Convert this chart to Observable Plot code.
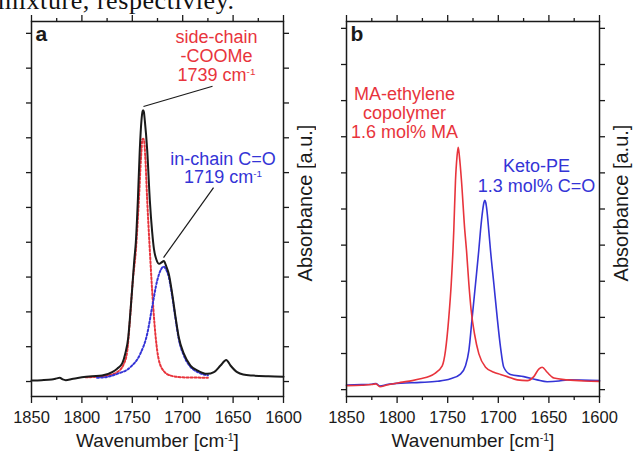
<!DOCTYPE html>
<html><head><meta charset="utf-8">
<script src="https://cdn.jsdelivr.net/npm/d3@7"></script>
<script src="https://cdn.jsdelivr.net/npm/@observablehq/plot@0.6"></script>
<style>
body{margin:0;background:#fff;}
#wrap{position:relative;width:633px;height:451px;overflow:hidden;display:flex;}
#title{position:absolute;left:0;top:0;}
</style></head><body>
<div id="wrap"></div>
<script>
// ---- data (wavenumber cm-1, absorbance a.u.) ----
const majorTicks = [1850, 1800, 1750, 1700, 1650, 1600];
const minorTicks = [1825, 1775, 1725, 1675, 1625];
const yTicks = [0,1,2,3,4,5,6,7,8,9,10];

// Panel a: measured mixture spectrum (black)
const aMeasured = [[1850,0.03],[1840,0.04],[1830,0.06],[1825,0.09],[1822,0.11],[1819,0.06],[1816,0.04],[1810,0.07],[1800,0.12],[1790,0.15],[1780,0.17],[1770,0.27],[1765,0.37],[1760,0.52],[1757,0.8],[1754,1.27],[1752,1.95],[1750,2.71],[1748,3.5],[1746.5,4.0],[1744.5,5.2],[1742.6,6.64],[1740.9,7.5],[1739.8,7.76],[1739.2,7.79],[1738.5,7.74],[1737.6,7.5],[1735.2,6.64],[1732.6,5.2],[1730.3,4.3],[1728.5,3.8],[1726.3,3.52],[1723.2,3.38],[1721,3.42],[1718.7,3.46],[1716.2,3.3],[1713.8,3.09],[1710.4,2.52],[1707.1,1.85],[1703.9,1.27],[1698.9,0.8],[1692.3,0.46],[1685.6,0.32],[1675.7,0.22],[1669,0.27],[1662.5,0.46],[1656.8,0.62],[1652.6,0.46],[1646,0.27],[1640,0.2],[1630,0.17],[1615,0.15],[1600,0.14]];
// Panel a: fitted side-chain -COOMe component (red dotted)
const aFitSide = [[1796,0.12],[1785,0.14],[1775,0.17],[1765,0.27],[1758.5,0.5],[1755,0.88],[1752.8,1.6],[1749.5,2.9],[1746.5,3.76],[1743.5,5.2],[1741.2,6.5],[1740,6.95],[1739.2,6.97],[1738.5,6.95],[1737.2,6.5],[1735.2,5.2],[1732.6,3.76],[1730.3,2.61],[1728,1.66],[1725.3,0.89],[1720.3,0.36],[1712,0.17],[1700,0.12],[1675,0.11]];
// Panel a: fitted in-chain C=O component (blue dotted)
const aFitChain = [[1785,0.11],[1778,0.12],[1765,0.22],[1752,0.41],[1742,0.8],[1735.2,1.37],[1730.3,2.14],[1725.3,2.9],[1721.5,3.22],[1719,3.3],[1716.5,3.22],[1713.8,3.0],[1710.4,2.45],[1707.1,1.8],[1703.9,1.22],[1698.9,0.75],[1692.3,0.42],[1685.6,0.28],[1680,0.21],[1675,0.18]];

// Panel b: MA-ethylene copolymer (red) and Keto-PE (blue)
const bMA = [[1850,0.11],[1835,0.12],[1825,0.14],[1821,0.16],[1817,0.08],[1810,0.13],[1796.6,0.2],[1785,0.25],[1776.9,0.3],[1763.7,0.43],[1755.4,0.66],[1752.2,1.08],[1748.9,2.0],[1746.5,2.93],[1744.8,3.85],[1744,4.4],[1742.3,5.79],[1740.8,6.45],[1739.6,6.71],[1738.4,6.45],[1736.4,5.79],[1733.1,4.4],[1731.4,3.85],[1729.1,2.93],[1726.8,2.19],[1723.5,1.54],[1719.2,0.99],[1712.6,0.62],[1704.4,0.48],[1697.8,0.42],[1691.2,0.36],[1681.3,0.27],[1671.4,0.25],[1664.9,0.36],[1660,0.57],[1656.6,0.62],[1651.7,0.48],[1645.1,0.32],[1631.9,0.27],[1615,0.24],[1600,0.23]];
const bKeto = [[1850,0.13],[1835,0.14],[1825,0.15],[1821,0.17],[1817,0.1],[1810,0.14],[1796.6,0.18],[1776.9,0.2],[1760.4,0.23],[1747.2,0.3],[1737.4,0.43],[1732.4,0.66],[1729.1,1.08],[1725.8,2.0],[1722.5,2.93],[1719.3,3.85],[1717.6,4.4],[1715.5,4.95],[1714.2,5.18],[1713.3,5.24],[1712.4,5.18],[1711.2,4.95],[1709.4,4.4],[1707.7,3.85],[1704.4,2.93],[1701.1,2.0],[1697.8,1.17],[1694.6,0.62],[1688,0.42],[1674.8,0.36],[1661.6,0.27],[1651.7,0.22],[1640,0.24],[1631.9,0.27],[1600,0.25]];

// annotations: [text, wavenumber, absorbance]
const aRedNotes = [["side-chain",1666.5,9.9],["-COOMe",1666.5,9.35],["1739 cm-1",1666.5,8.81]];
const aBlueNotes = [["in-chain C=O",1660,6.38],["1719 cm-1",1660,5.86]];
const aLeaders = [[1738.9,7.9,1670.4,8.48],[1669.4,5.57,1719,3.56]];
const bRedNotes = [["MA-ethylene",1792.7,8.19],["copolymer",1792.7,7.66],["1.6 mol% MA",1792.7,7.13]];
const bBlueNotes = [["Keto-PE",1662.3,6.18],["1.3 mol% C=O",1662.3,5.62]];

const RED = "#e8343c", BLUE = "#3434d6", INK = "#1a1a1a";
const FONT = "'Liberation Sans', Arial, Helvetica, sans-serif";

function panel({width, ml, mr, yDomain, lines, notes, leaders, tag}) {
  return Plot.plot({
    width, height: 451, marginTop: 21, marginBottom: 55, marginLeft: ml, marginRight: mr,
    x: {domain: [1850, 1600], axis: null},
    y: {domain: yDomain, axis: null},
    style: {fontFamily: FONT, background: "transparent", color: INK},
    marks: [
      ...lines,
      Plot.frame({stroke: INK, strokeWidth: 1.5}),
      Plot.axisX(majorTicks, {anchor: "bottom", tickSize: 7, tickPadding: 8, fontSize: 16.5, tickFormat: d => String(d), label: null, stroke: INK, strokeWidth: 1.3, fill: INK}),
      Plot.axisX(minorTicks, {anchor: "bottom", tickSize: 4, tickFormat: () => "", label: null, stroke: INK, strokeWidth: 1.3}),
      Plot.axisX(majorTicks, {anchor: "top", tickSize: 7, tickFormat: () => "", label: null, stroke: INK, strokeWidth: 1.3}),
      Plot.axisX(minorTicks, {anchor: "top", tickSize: 4, tickFormat: () => "", label: null, stroke: INK, strokeWidth: 1.3}),
      Plot.axisY(yTicks, {anchor: "left", tickSize: 5, tickFormat: () => "", label: null, stroke: INK, strokeWidth: 1.3}),
      Plot.axisY(yTicks, {anchor: "right", tickSize: 5, tickFormat: () => "", label: null, stroke: INK, strokeWidth: 1.3}),
      ...(leaders ? [Plot.link(leaders, {x1: d => d[0], y1: d => d[1], x2: d => d[2], y2: d => d[3], stroke: INK, strokeWidth: 1.2})] : []),
      ...notes.map(([arr, color]) => Plot.text(arr, {x: d => d[1], y: d => d[2], text: d => d[0], fill: color, fontSize: 18, textAnchor: "middle", lineAnchor: "middle"})),
      Plot.text([tag], {frameAnchor: "top-left", dx: 4, dy: 5, fontSize: 21, fontWeight: "bold", fill: INK}),
      Plot.text(["Wavenumber [cm-1]"], {frameAnchor: "bottom", lineAnchor: "top", dy: 37, fontSize: 19, fill: INK}),
      Plot.text(["Absorbance [a.u.]"], {frameAnchor: "right", rotate: -90, dx: 22, dy: -6, fontSize: 20, textAnchor: "middle", lineAnchor: "middle", fill: INK})
    ]
  });
}

const A = panel({
  width: 316, ml: 31, mr: 33, yDomain: [-0.43, 10.34], tag: "a",
  lines: [
    Plot.line(aFitSide, {x: d => d[0], y: d => d[1], stroke: RED, strokeWidth: 2, strokeDasharray: "2,2", curve: "monotone-x"}),
    Plot.line(aFitChain, {x: d => d[0], y: d => d[1], stroke: BLUE, strokeWidth: 2, strokeDasharray: "2,2", curve: "monotone-x"}),
    Plot.line(aMeasured, {x: d => d[0], y: d => d[1], stroke: INK, strokeWidth: 2, curve: "monotone-x"})
  ],
  notes: [[aRedNotes, RED], [aBlueNotes, BLUE]],
  leaders: aLeaders
});
const B = panel({
  width: 317, ml: 30, mr: 34, yDomain: [-0.19, 10.19], tag: "b",
  lines: [
    Plot.line(bKeto, {x: d => d[0], y: d => d[1], stroke: BLUE, strokeWidth: 1.6, curve: "monotone-x"}),
    Plot.line(bMA, {x: d => d[0], y: d => d[1], stroke: RED, strokeWidth: 1.6, curve: "monotone-x"})
  ],
  notes: [[bRedNotes, RED], [bBlueNotes, BLUE]]
});

const wrap = document.getElementById("wrap");
wrap.appendChild(A);
wrap.appendChild(B);

// superscript "-1" in "cm-1"
function fixSup(el) {
  const s = el.textContent;
  const i = s.indexOf("cm-1");
  if (i < 0) return;
  const fs = parseFloat(getComputedStyle(el).fontSize) || 18;
  const ns = "http://www.w3.org/2000/svg";
  while (el.firstChild) el.removeChild(el.firstChild);
  el.appendChild(document.createTextNode(s.slice(0, i + 2)));
  const sup = document.createElementNS(ns, "tspan");
  sup.setAttribute("font-size", (fs * 0.55).toFixed(1));
  sup.setAttribute("baseline-shift", (fs * 0.33).toFixed(1));
  sup.textContent = "-1";
  el.appendChild(sup);
  const rest = s.slice(i + 4);
  if (rest) el.appendChild(document.createTextNode(rest));
}
[A, B].forEach(svg => svg.querySelectorAll("text").forEach(t => {
  if (!t.querySelector("tspan")) fixSup(t);
}));

// cropped caption line from the source page
const title = d3.select(wrap).append("svg").attr("id", "title").attr("width", 633).attr("height", 20);
title.append("text").attr("x", -2).attr("y", 9).attr("font-family", "'Liberation Serif', 'Times New Roman', serif")
  .attr("font-size", 26).attr("textLength", 236).attr("fill", "#111").text("mixture, respectivley.");
</script></body></html>
